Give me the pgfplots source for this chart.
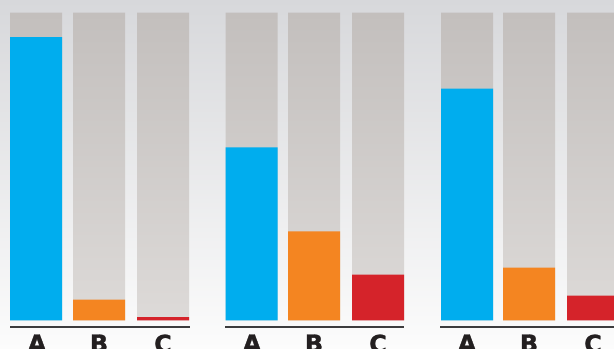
\documentclass[border=0pt]{standalone}
\usepackage{pgfplots}
\pgfplotsset{compat=1.18}
\usepackage{fontspec}
\setsansfont{DejaVu Sans}[BoldFeatures={FakeBold=1.2}]
\definecolor{cA}{HTML}{00ADEE}
\definecolor{cB}{HTML}{F48521}
\definecolor{cC}{HTML}{D5232A}
\definecolor{bgTop}{HTML}{D7D8DB}
\definecolor{bgMid}{HTML}{E6E7E9}
\definecolor{bgBot}{HTML}{FCFCFC}
\definecolor{grTop}{HTML}{C3BFBD}
\definecolor{grBot}{HTML}{DDDAD8}
\definecolor{baseC}{HTML}{3C3C3E}
\definecolor{lab}{HTML}{231F20}
\tikzset{lbl/.style={anchor=north, inner sep=0pt, font=\fontsize{24}{24}\selectfont\sffamily\bfseries, text=lab}}
\begin{document}
\begin{tikzpicture}
\useasboundingbox (0,0) rectangle (614bp,349bp);
\clip (0,0) rectangle (614bp,349bp);
\shade[top color=bgTop, middle color=bgMid, bottom color=bgBot] (0,0) rectangle (614bp,349bp);
\begin{axis}[at={(0,18bp)}, anchor=south west, scale only axis,
  width=614bp, height=331bp, xmin=0, xmax=614, ymin=-3.41, ymax=104.06,
  hide axis, clip=false]
\addplot[ybar, bar width=52, bar shift=0pt, draw=none, top color=grTop, bottom color=grBot]
  coordinates {(36,100)(99,100)(163,100)(251.5,100)(314,100)(378,100)(467,100)(529,100)(593,100)};
\addplot[ybar, bar width=52, bar shift=0pt, draw=none, fill=cA]
  coordinates {(36,92)(251.5,56.2)(467,75.3)};
\addplot[ybar, bar width=52, bar shift=0pt, draw=none, fill=cB]
  coordinates {(99,6.8)(314,28.9)(529,17.2)};
\addplot[ybar, bar width=52, bar shift=0pt, draw=none, fill=cC]
  coordinates {(163,1.1)(378,14.9)(593,8.1)};
\addplot[mark=none, line width=2.2bp, color=baseC] coordinates {(10,-2)(190,-2)};
\addplot[mark=none, line width=2.2bp, color=baseC] coordinates {(225,-2)(404,-2)};
\addplot[mark=none, line width=2.2bp, color=baseC] coordinates {(440,-2)(614,-2)};
\node[lbl] at (axis cs:37,-4.5) {A};
\node[lbl] at (axis cs:99,-4.5) {B};
\node[lbl] at (axis cs:163,-4.5) {C};
\node[lbl] at (axis cs:252,-4.5) {A};
\node[lbl] at (axis cs:314,-4.5) {B};
\node[lbl] at (axis cs:378,-4.5) {C};
\node[lbl] at (axis cs:467,-4.5) {A};
\node[lbl] at (axis cs:529,-4.5) {B};
\node[lbl] at (axis cs:593,-4.5) {C};
\end{axis}
\end{tikzpicture}
\end{document}
